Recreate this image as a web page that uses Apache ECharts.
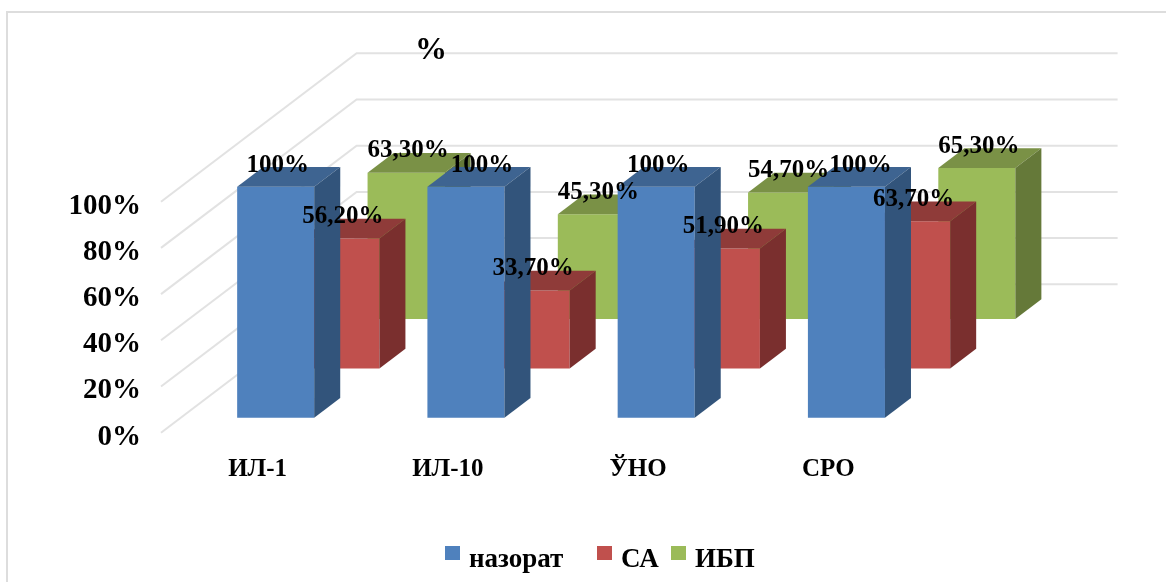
<!DOCTYPE html>
<html>
<head>
<meta charset="utf-8">
<style>html,body{margin:0;padding:0;background:#fff}#chart{width:1166px;height:582px}</style>
<script src="https://cdn.jsdelivr.net/npm/echarts@6/dist/echarts.min.js"></script>
</head>
<body>
<div id="chart"></div>
<script>
const categories = ['ИЛ-1', 'ИЛ-10', 'ЎНО', 'СРО'];
const control = [100, 100, 100, 100];
const sa = [56.2, 33.7, 51.9, 63.7];
const ibp = [63.3, 45.3, 54.7, 65.3];
const valueTicks = [0, 20, 40, 60, 80, 100];

// Oblique projection of the depth axis: screen offset from the front plane to the back wall.
const DEPTH_X = 195.6;
const DEPTH_Y = 148.4;
const BAR_DEPTH = 0.133;
const SLOT_START = [0.1, 0.1 + 1 / 3, 0.1 + 2 / 3];
const FONT = '"Liberation Serif"';
// Two of the control labels sit to the right so they clear the neighbouring label.
const CONTROL_LABEL_SHIFT = [0, 14, 0, 12];

const palette = [
  { front: '#4F81BD', top: '#3E6491', side: '#32547B' },
  { front: '#C0504D', top: '#8F3B39', side: '#7A2F2E' },
  { front: '#9BBB59', top: '#7A9146', side: '#657939' }
];

function poly(points, fill) {
  return { type: 'polygon', shape: { points }, style: { fill, stroke: null } };
}

function barSeries(name, values, slot, z) {
  const c = palette[slot];
  return {
    name, type: 'custom', z, clip: false,
    coordinateSystem: 'cartesian2d',
    itemStyle: { color: c.front },
    encode: { x: 0, y: 1 },
    data: values.map((v, i) => [i, v]),
    renderItem(params, api) {
      const band = api.size([1, 0])[0];
      const w = band * 0.405;
      const top = api.coord([api.value(0), api.value(1)]);
      const base = api.coord([api.value(0), 0]);
      const d = SLOT_START[slot];
      const x0 = top[0] - w / 2 + d * DEPTH_X;
      const x1 = x0 + w;
      const yt = top[1] - d * DEPTH_Y;
      const yb = base[1] - d * DEPTH_Y;
      const dx = BAR_DEPTH * DEPTH_X;
      const dy = BAR_DEPTH * DEPTH_Y;
      return {
        type: 'group',
        children: [
          poly([[x0, yb], [x1, yb], [x1, yt], [x0, yt]], c.front),
          poly([[x0, yt], [x1, yt], [x1 + dx, yt - dy], [x0 + dx, yt - dy]], c.top),
          poly([[x1, yb], [x1 + dx, yb - dy], [x1 + dx, yt - dy], [x1, yt]], c.side)
        ]
      };
    }
  };
}

function formatValue(v) {
  return v === 100 ? '100%' : v.toFixed(2).replace('.', ',') + '%';
}

function labelSeries(values, slot, shifts) {
  return {
    type: 'custom', z: 10, clip: false, silent: true,
    coordinateSystem: 'cartesian2d',
    encode: { x: 0, y: 1 },
    data: values.map((v, i) => [i, v]),
    renderItem(params, api) {
      const top = api.coord([api.value(0), api.value(1)]);
      const d = SLOT_START[slot];
      const shift = shifts ? shifts[params.dataIndex] : 0;
      return {
        type: 'text',
        style: {
          x: top[0] + d * DEPTH_X + 2 + shift,
          y: top[1] - (d + BAR_DEPTH) * DEPTH_Y - 2,
          text: formatValue(api.value(1)),
          fill: '#000',
          font: 'bold 25px ' + FONT,
          textAlign: 'center',
          textVerticalAlign: 'middle'
        }
      };
    }
  };
}

// Side and back wall gridlines, one polyline per value tick.
const wallSeries = {
  type: 'custom', z: 1, clip: false, silent: true,
  coordinateSystem: 'cartesian2d',
  encode: { y: 0 },
  data: valueTicks.map(v => [v]),
  renderItem(params, api) {
    const band = api.size([1, 0])[0];
    const p = api.coord([0, api.value(0)]);
    const x0 = p[0] - band / 2;
    const x1 = x0 + band * categories.length;
    return {
      type: 'polyline',
      shape: { points: [[x0, p[1]], [x0 + DEPTH_X, p[1] - DEPTH_Y], [x1 + DEPTH_X, p[1] - DEPTH_Y]] },
      style: { stroke: '#E2E2E2', lineWidth: 2, fill: null }
    };
  }
};

// One legend block per entry, so each swatch keeps its own horizontal slot.
function legendEntry(name, left) {
  return {
    left, top: 546, padding: 0, icon: 'rect',
    itemWidth: 15, itemHeight: 14,
    selectedMode: false,
    data: [name],
    formatter: '{t|{name}}',
    textStyle: {
      rich: {
        t: { fontFamily: FONT, fontWeight: 'bold', fontSize: 27, color: '#000', padding: [14, 0, 0, 4] }
      }
    }
  };
}

const chart = echarts.init(document.getElementById('chart'), null, { renderer: 'canvas' });
chart.setOption({
  animation: false,
  backgroundColor: '#fff',
  title: {
    text: '%', left: 410, top: 30,
    textStyle: { fontFamily: FONT, fontWeight: 'bold', fontSize: 32, color: '#000' }
  },
  legend: [legendEntry('назорат', 445), legendEntry('СА', 597), legendEntry('ИБП', 671)],
  grid: { left: 161, top: 201.7, width: 761, height: 231 },
  xAxis: {
    type: 'category', data: categories,
    axisLine: { show: false }, axisTick: { show: false },
    axisLabel: {
      margin: 24, color: '#000', fontFamily: FONT, fontWeight: 'bold', fontSize: 25,
      padding: [0, 0, 0, 3], interval: 0
    }
  },
  yAxis: {
    type: 'value', min: 0, max: 100, interval: 20,
    axisLine: { show: false }, axisTick: { show: false }, splitLine: { show: false },
    axisLabel: {
      margin: 20, color: '#000', fontFamily: FONT, fontWeight: 'bold', fontSize: 29,
      verticalAlign: 'top', lineHeight: 9, formatter: '{value}%'
    }
  },
  graphic: [
    { type: 'polyline', silent: true, z: 0,
      shape: { points: [[7, 582], [7, 12], [1166, 12]] },
      style: { stroke: '#DDDDDD', lineWidth: 2, fill: null } }
  ],
  series: [
    wallSeries,
    barSeries('ИБП', ibp, 2, 2),
    barSeries('СА', sa, 1, 3),
    barSeries('назорат', control, 0, 4),
    labelSeries(ibp, 2),
    labelSeries(sa, 1),
    labelSeries(control, 0, CONTROL_LABEL_SHIFT)
  ]
});
</script>
</body>
</html>
